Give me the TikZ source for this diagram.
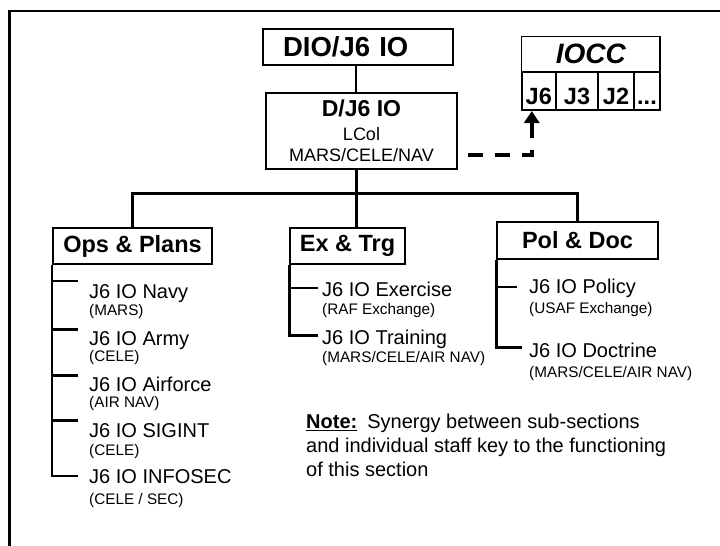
\documentclass[tikz,border=0pt]{standalone}
\usepackage{fontspec}
\setmainfont{Liberation Sans}
\usetikzlibrary{arrows.meta}
\begin{document}
\begin{tikzpicture}[x=1pt,y=-1pt,
  box/.style={draw, line width=1.8pt, inner sep=0pt, minimum height=36pt},
  hdr/.style={font=\fontsize{23.5}{26}\selectfont\bfseries},
  cell/.style={draw, line width=2pt, minimum height=38pt, inner sep=0pt, text height=27.5pt, text depth=0pt, font=\fontsize{23.5}{24}\selectfont\bfseries},
  itm/.style={font=\fontsize{20}{24}\selectfont, inner sep=0pt, anchor=base west},
  sml/.style={font=\fontsize{15.3}{18}\selectfont, inner sep=0pt, anchor=base west},
  trunk/.style={line width=3pt},
  twig/.style={line width=2pt},
  link/.style={line width=4pt, dash pattern=on 15pt off 12pt, -{Triangle[width=15pt,length=12pt]}},
]
\useasboundingbox (0,0) rectangle (720,546);
% frame
\draw[line width=2.5pt] (9.5,546) -- (9.5,11) -- (720,11);

% top boxes
\node[box, minimum width=190pt, text width=150pt, inner xsep=20pt, align=left,
      font=\fontsize{27.5}{29}\selectfont\bfseries] (dio) at (358,47) {DIO/J6 IO};
\node[box, minimum width=191pt, minimum height=76pt, align=center,
      font=\fontsize{18}{21}\selectfont] (dj6) at (361.5,131)
      {{\fontsize{23}{24}\selectfont\bfseries D/J6 IO}\\[3pt]LCol\\MARS/CELE/NAV};

% IOCC
\node[box, minimum width=138.5pt, minimum height=35.5pt,
      font=\fontsize{28}{30}\selectfont\bfseries\itshape] (iocc) at (590.75,54.25) {IOCC};
\node[cell, minimum width=34.5pt] (cj6) at (538.75,91) {J6};
\node[cell, minimum width=42pt] (cj3) at (577,91) {J3};
\node[cell, minimum width=36pt] (cj2) at (616,91) {J2};
\node[cell, minimum width=26pt] (cdots) at (647,91) {...};

% dashed link
\draw[link] ([yshift=-24pt, xshift=10pt]dj6.east) -| ([xshift=-7pt]cj6.south);

% section boxes
\node[box, hdr, minimum width=159pt] (ops) at (132.5,246) {Ops \& Plans};
\node[box, hdr, minimum width=115pt] (ex) at (347.5,246) {Ex \& Trg};
\node[box, hdr, minimum width=161pt, minimum height=37pt] (pol) at (577.5,240.5) {Pol \& Doc};

% tree
\coordinate (bus) at (356,193);
\draw[twig] (dio.south -| bus) -- (dj6.north -| bus);
\draw[trunk] (dj6.south -| bus) -- (ex.north -| bus);
\draw[trunk] (ops.north) |- (bus) -| (pol.north);

% Ops & Plans items
\node[itm] (navy) at (89,298) {J6 IO Navy};
\node[sml] (navys) at (89,315) {(MARS)};
\node[itm] (army) at (89,345) {J6 IO Army};
\node[sml] (armys) at (89,361) {(CELE)};
\node[itm] (air) at (89,391) {J6 IO Airforce};
\node[sml] (airs) at (89,407.5) {(AIR NAV)};
\node[itm] (sig) at (89,437) {J6 IO SIGINT};
\node[sml] (sigs) at (89,455) {(CELE)};
\node[itm] (info) at (89,483) {J6 IO INFOSEC};
\node[sml] (infos) at (89,504) {(CELE / SEC)};

\coordinate (tnavy) at (78,281);
\coordinate (tarmy) at (78,329);
\coordinate (tair) at (78,375);
\coordinate (tsig) at (78,420);
\coordinate (tinfo) at (78,476);
\draw[twig] (ops.south west) |- (tinfo);
\draw[twig] (tnavy -| ops.west) -- (tnavy);
\draw[trunk] (tarmy -| ops.west) -- (tarmy);
\draw[trunk] (tair -| ops.west) -- (tair);
\draw[trunk] (tsig -| ops.west) -- (tsig);

% Ex & Trg items
\node[itm] (exer) at (322,296) {J6 IO Exercise};
\node[sml] (exers) at (322,314.5) {(RAF Exchange)};
\node[itm] (trn) at (322,344) {J6 IO Training};
\node[sml] (trns) at (322,362) {(MARS/CELE/AIR NAV)};
\coordinate (texer) at (318,288);
\coordinate (ttrn) at (318,335);
\draw[trunk] (ex.south west) |- (ttrn);
\draw[twig] (texer -| ex.west) -- (texer);

% Pol & Doc items
\node[itm] (polc) at (529,293) {J6 IO Policy};
\node[sml] (polcs) at (529,313) {(USAF Exchange)};
\node[itm] (doct) at (529,357.5) {J6 IO Doctrine};
\node[sml] (docts) at (529,377) {(MARS/CELE/AIR NAV)};
\coordinate (tpolc) at (517,287);
\coordinate (tdoct) at (522,347);
\draw[trunk] (pol.south west) |- (tdoct);
\draw[twig] (tpolc -| pol.west) -- (tpolc);

% note
\node[font=\fontsize{20}{24}\selectfont, align=left, anchor=north west, inner sep=0pt] (note) at (306,414)
  {\underline{\textbf{Note:}}\hspace{10pt}Synergy between sub-sections\\and individual staff key to the functioning\\of this section};
\end{tikzpicture}
\end{document}
